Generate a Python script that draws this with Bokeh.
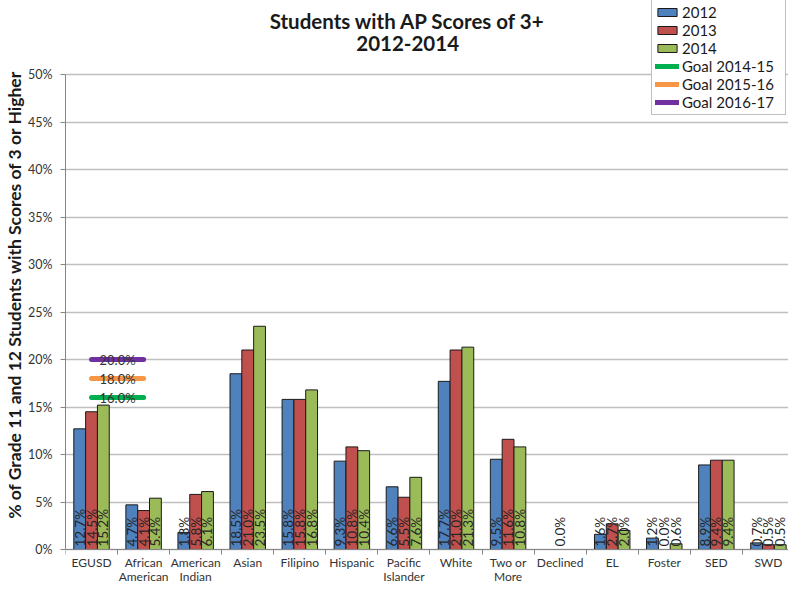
import numpy as np
from bokeh.plotting import figure
from bokeh.models import (Range1d, FixedTicker, Legend, LegendItem, Label,
                          ColumnDataSource, PrintfTickFormatter)
from bokeh.core.properties import value
from bokeh.embed import file_html
from bokeh.resources import INLINE

# ---------------- data ----------------
categories = ["EGUSD", "African\nAmerican", "American\nIndian", "Asian", "Filipino",
              "Hispanic", "Pacific\nIslander", "White", "Two or\nMore", "Declined",
              "EL", "Foster", "SED", "SWD"]
years = ["2012", "2013", "2014"]
v2012 = [12.7, 4.7, 1.8, 18.5, 15.8, 9.3, 6.6, 17.7, 9.5, None, 1.6, 1.2, 8.9, 0.7]
v2013 = [14.5, 4.1, 5.8, 21.0, 15.8, 10.8, 5.5, 21.0, 11.6, 0.0, 2.7, 0.0, 9.4, 0.5]
v2014 = [15.2, 5.4, 6.1, 23.5, 16.8, 10.4, 7.6, 21.3, 10.8, None, 2.0, 0.6, 9.4, 0.5]
goal_names = ["Goal 2014-15", "Goal 2015-16", "Goal 2016-17"]
goal_values = [16.0, 18.0, 20.0]
goal_span = ["EGUSD", "African\nAmerican"]
y_ticks = [0, 5, 10, 15, 20, 25, 30, 35, 40, 45, 50]
title_lines = ["Students with AP Scores of 3+", "2012-2014"]
y_title = "% of Grade 11 and 12 Students  with Scores of 3 or Higher"

bar_colors = ["#4F81BD", "#C0504D", "#9BBB59"]
goal_colors = ["#00B050", "#F79646", "#7030A0"]
FONT = "Lato"

# ---------------- layout (pixels inside the canvas) ----------------
W, H = 788, 584
LEFT = 59                       # room for the y axis
FRAME_W = W - LEFT
ZERO_PX, FIFTY_PX = 549, 74     # canvas y of 0% and 50%
PPU_Y = (ZERO_PX - FIFTY_PX) / 50.0
PPU_X = 52.5                    # pixels per category
y_start = -(H - ZERO_PX) / PPU_Y
y_end = ZERO_PX / PPU_Y
x_end = FRAME_W / PPU_X


def px_x(px):   # canvas x -> data x
    return (px - LEFT) / PPU_X


def px_y(py):   # canvas y -> data y
    return (ZERO_PX - py) / PPU_Y


p = figure(width=W, height=H, output_backend="svg", toolbar_location=None,
           title=None,
           x_range=Range1d(0, x_end), y_range=Range1d(y_start, y_end),
           min_border_left=LEFT, min_border_right=0, min_border_top=0,
           min_border_bottom=0)
p.outline_line_color = None
p.background_fill_color = "white"
p.border_fill_color = "white"

centers = np.arange(len(categories)) + 0.5
bw = 0.227
offsets = [-bw, 0.0, bw]

bar_renderers = []
series = [v2012, v2013, v2014]
for yr, vals, off, col in zip(years, series, offsets, bar_colors):
    xs = [c + off for c, v in zip(centers, vals) if v is not None]
    ys = [v for v in vals if v is not None]
    src = ColumnDataSource(dict(x=xs, top=ys, lab=[f"{v:.1f}%" for v in ys]))
    r = p.vbar(x="x", top="top", width=bw, bottom=0, source=src,
               fill_color=col, line_color="#1a1a1a", line_width=1)
    bar_renderers.append(r)
    p.text(x="x", y=0, text="lab", source=src, angle=np.pi / 2,
           text_align="left", text_baseline="middle", y_offset=-3,
           text_font=value(FONT), text_font_size="13.5px", text_color="#262626")

goal_renderers = []
gx = [centers[categories.index(c)] for c in goal_span]
for name, gv, col in zip(goal_names, goal_values, goal_colors):
    r = p.line(x=gx, y=[gv, gv], line_color=col, line_width=5, line_cap="round")
    goal_renderers.append(r)
    p.text(x=[float(np.mean(gx))], y=[gv], text=[f"{gv:.1f}%"],
           text_align="center", text_baseline="middle",
           text_font=value(FONT), text_font_size="13px", text_color="#333333")

# ---------------- axes ----------------
xa = p.xaxis[0]
xa.fixed_location = 0
xa.ticker = FixedTicker(ticks=list(centers),
                        minor_ticks=list(range(len(categories) + 1)))
xa.major_label_overrides = {float(c): lab for c, lab in zip(centers, categories)}
xa.major_tick_line_color = None
xa.major_tick_out = 0
xa.major_tick_in = 0
xa.minor_tick_in = 0
xa.minor_tick_out = 5
xa.minor_tick_line_color = "#868686"
xa.axis_line_color = "#868686"
xa.major_label_text_font = FONT
xa.major_label_text_font_size = "12px"
xa.major_label_text_line_height = 0.95
xa.major_label_text_color = "#333333"
xa.major_label_standoff = 0

ya = p.yaxis[0]
ya.bounds = (0, 50)
ya.ticker = FixedTicker(ticks=y_ticks)
ya.formatter = PrintfTickFormatter(format="%d%%")
ya.axis_line_color = "#868686"
ya.major_tick_line_color = "#868686"
ya.major_tick_out = 5
ya.major_tick_in = 0
ya.minor_tick_line_color = None
ya.major_label_text_font = FONT
ya.major_label_text_font_size = "12.5px"
ya.major_label_text_color = "#333333"
ya.major_label_standoff = 8
ya.axis_label = y_title
ya.axis_label_text_font = FONT
ya.axis_label_text_font_size = "17.5px"
ya.axis_label_text_font_style = "bold"
ya.axis_label_text_color = "#1a1a1a"
ya.axis_label_standoff = 0

p.xgrid.grid_line_color = None
p.ygrid.grid_line_color = "#BFBFBF"
p.ygrid.grid_line_width = 1.5

# ---------------- title (two centred lines) ----------------
title_cx = px_x(404)
for line, py in zip(title_lines, [20, 43]):
    p.add_layout(Label(x=title_cx, y=px_y(py), text=line,
                       text_align="center", text_baseline="middle",
                       text_font=FONT, text_font_size="20.5px",
                       text_font_style="bold", text_color="#1a1a1a"))

# ---------------- legend ----------------
items = [LegendItem(label=y, renderers=[r]) for y, r in zip(years, bar_renderers)]
items += [LegendItem(label=n, renderers=[r]) for n, r in zip(goal_names, goal_renderers)]
legend = Legend(items=items, location=(645 - LEFT, H - 115), orientation="vertical",
                label_text_font=FONT, label_text_font_size="15px",
                label_text_color="#1a1a1a", glyph_width=24, glyph_height=10,
                label_height=17, label_width=100, label_standoff=3, spacing=0,
                padding=3, margin=0,
                border_line_color="#7f7f7f", border_line_width=1,
                background_fill_color="white", background_fill_alpha=1.0)
p.add_layout(legend)

open("out.html", "w").write(file_html(p, INLINE))
